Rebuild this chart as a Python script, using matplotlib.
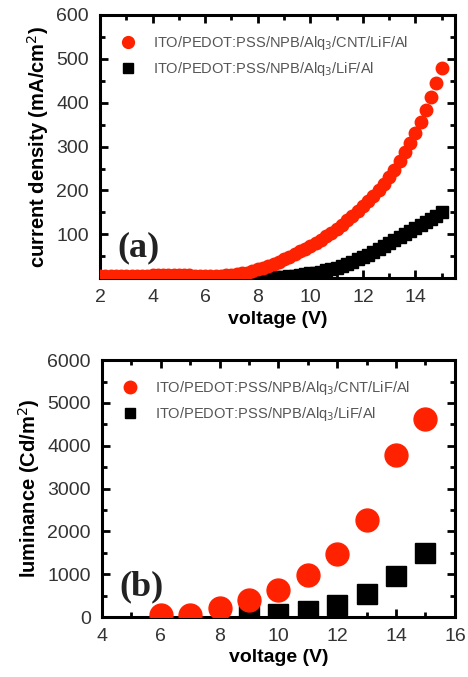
import matplotlib.pyplot as plt
from matplotlib.ticker import MultipleLocator

plt.rcParams['font.family'] = ['Liberation Sans', 'DejaVu Sans']

# (a) current density vs voltage
v_cnt = [2.0, 2.2, 2.4, 2.6, 2.8, 3.0, 3.2, 3.4, 3.6, 3.8, 4.0, 4.2, 4.4, 4.6, 4.8,
         5.0, 5.2, 5.4, 5.6, 5.8, 6.0, 6.2, 6.4, 6.6, 6.8, 7.0, 7.2, 7.4, 7.6, 7.8,
         8.0, 8.2, 8.4, 8.6, 8.8, 9.0, 9.2, 9.4, 9.6, 9.8, 10.0, 10.2, 10.4, 10.6,
         10.8, 11.0, 11.2, 11.4, 11.6, 11.8, 12.0, 12.2, 12.4, 12.6, 12.8, 13.0,
         13.2, 13.4, 13.6, 13.8, 14.0, 14.2, 14.4, 14.6, 14.8, 15.0]
j_cnt = [4, 4, 4, 4, 5, 5, 5, 5, 6, 6, 7, 7, 8, 8, 8,
         8, 7, 7, 6, 6, 6, 6, 6, 6, 7, 8, 9, 11, 13, 16,
         20, 24, 28, 33, 38, 43, 49, 55, 61, 67, 74, 81, 88, 96,
         104, 113, 122, 132, 142, 153, 164, 176, 188, 201, 215, 230,
         247, 266, 288, 308, 331, 356, 384, 413, 445, 478]

v_ref = [7.8, 8.0, 8.2, 8.4, 8.6, 8.8, 9.0, 9.2, 9.4, 9.6, 9.8, 10.0, 10.2, 10.4,
         10.6, 10.8, 11.0, 11.2, 11.4, 11.6, 11.8, 12.0, 12.2, 12.4, 12.6, 12.8,
         13.0, 13.2, 13.4, 13.6, 13.8, 14.0, 14.2, 14.4, 14.6, 14.8, 15.0]
j_ref = [0, 0.5, 1, 1, 2, 2, 3, 4, 5, 7, 9, 11, 13, 15,
         18, 21, 24, 28, 32, 37, 43, 49, 54, 60, 66, 73,
         80, 86, 93, 100, 107, 114, 121, 128, 135, 142, 150]

# (b) luminance vs voltage
vb_cnt = [6, 7, 8, 9, 10, 11, 12, 13, 14, 15]
lum_cnt = [40, 40, 220, 405, 640, 975, 1480, 2260, 3780, 4620]
vb_ref = [9, 10, 11, 12, 13, 14, 15]
lum_ref = [40, 80, 140, 275, 545, 960, 1505]

lab_cnt = "ITO/PEDOT:PSS/NPB/Alq$_3$/CNT/LiF/Al"
lab_ref = "ITO/PEDOT:PSS/NPB/Alq$_3$/LiF/Al"

fig = plt.figure(figsize=(4.68, 6.77), dpi=100)
ax1 = fig.add_axes([0.2137, 0.589, 0.7583, 0.389])
ax2 = fig.add_axes([0.218, 0.0886, 0.754, 0.3794])

red = "#ff2200"

ax1.plot(v_ref, j_ref, ls="none", marker="s", ms=8, color="black", label=lab_ref, zorder=2)
ax1.plot(v_cnt, j_cnt, ls="none", marker="o", ms=9, color=red, label=lab_cnt, zorder=3)
ax1.set_xlim(2, 15.5)
ax1.set_ylim(0, 600)
ax1.set_yticks([100, 200, 300, 400, 500, 600])
ax1.xaxis.set_major_locator(MultipleLocator(2))
ax1.xaxis.set_minor_locator(MultipleLocator(1))
ax1.yaxis.set_minor_locator(MultipleLocator(50))
ax1.set_xlabel("voltage (V)", fontsize=14, fontweight="bold", labelpad=3)
ax1.set_ylabel("current density (mA/cm$^2$)", fontsize=14.5, fontweight="bold", labelpad=4)
ax1.text(0.05, 0.085, "(a)", transform=ax1.transAxes, fontsize=26, fontweight="bold",
         family="Liberation Serif", color="#222222")

ax2.plot(vb_cnt, lum_cnt, ls="none", marker="o", ms=16.5, color=red, label=lab_cnt, zorder=3)
ax2.plot(vb_ref, lum_ref, ls="none", marker="s", ms=14.5, color="black", label=lab_ref, zorder=2)
ax2.set_xlim(4, 16)
ax2.set_ylim(0, 6000)
ax2.xaxis.set_major_locator(MultipleLocator(2))
ax2.xaxis.set_minor_locator(MultipleLocator(1))
ax2.yaxis.set_major_locator(MultipleLocator(1000))
ax2.yaxis.set_minor_locator(MultipleLocator(500))
ax2.set_xlabel("voltage (V)", fontsize=14, fontweight="bold", labelpad=3)
ax2.set_ylabel("luminance (Cd/m$^2$)", fontsize=14.5, fontweight="bold", labelpad=4)
ax2.text(0.05, 0.085, "(b)", transform=ax2.transAxes, fontsize=26, fontweight="bold",
         family="Liberation Serif", color="#222222")

for ax in (ax1, ax2):
    for s in ax.spines.values():
        s.set_linewidth(2.2)
    ax.tick_params(which="both", direction="in", top=True, right=True, width=2,
                   labelsize=14, labelcolor="#333333")
    ax.tick_params(axis="x", which="major", pad=8)
    ax.tick_params(axis="y", which="major", pad=8)
    ax.tick_params(which="major", length=6)
    ax.tick_params(which="minor", length=3.5)
    h, l = ax.get_legend_handles_labels()
    order = [l.index(lab_cnt), l.index(lab_ref)]
    leg = ax.legend([h[i] for i in order], [l[i] for i in order], loc="upper left",
                    frameon=False, fontsize=10.5, handletextpad=1.0,
                    borderaxespad=0.9, labelspacing=0.55, handlelength=1.3)
    for t in leg.get_texts():
        t.set_color("#555555")

# legend markers at fixed size like the original
for leg, (rs, bs) in ((ax1.get_legend(), (8.5, 7)), (ax2.get_legend(), (9, 7.5))):
    hs = leg.legend_handles
    hs[0].set_markersize(rs)
    hs[1].set_markersize(bs)

fig.savefig("out.png", dpi=100)
